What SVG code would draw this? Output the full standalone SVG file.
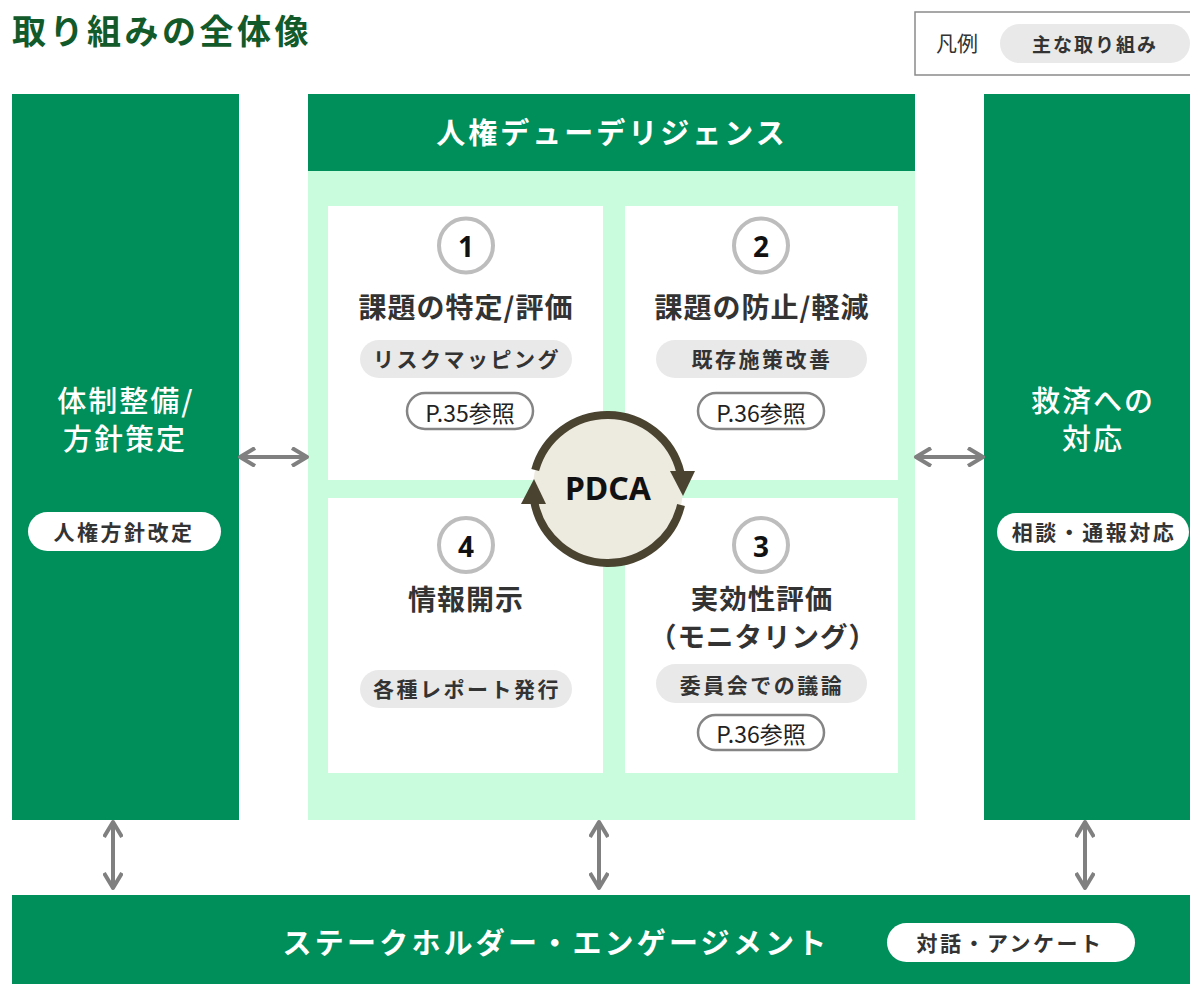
<svg xmlns="http://www.w3.org/2000/svg" width="1190" height="984" viewBox="0 0 1190 984">
<defs>
<style>
text{font-family:"Noto Sans CJK JP","Noto Sans",sans-serif;dominant-baseline:central;text-anchor:middle}
.green{fill:#008f5b}
.wt{fill:#ffffff;font-size:29px;font-weight:500;letter-spacing:2px}
.hd{fill:#ffffff;font-size:29px;font-weight:700;letter-spacing:3px}
.qt{fill:#333333;font-size:28px;font-weight:700;letter-spacing:1px}
.num{fill:#111111;font-size:28px;font-weight:700;font-family:"Noto Sans",sans-serif}
.ncirc{fill:#ffffff;stroke:#bdbdbd;stroke-width:4}
.gp{fill:#e9e9e9}
.wp{fill:#ffffff}
.pt{fill:#333333;font-size:21px;font-weight:700;letter-spacing:2.5px}
.ref{fill:#ffffff;stroke:#858585;stroke-width:2.5}
.rt{fill:#222222;font-size:23px;font-weight:400}
.conn{stroke:#808080;stroke-width:4;fill:none}
</style>
<marker id="chev" viewBox="0 0 20 20" refX="17" refY="10" markerWidth="20" markerHeight="20" markerUnits="userSpaceOnUse" orient="auto-start-reverse">
<path d="M 2 1 L 17 10 L 2 19" fill="none" stroke="#808080" stroke-width="4" stroke-linejoin="round"/>
</marker>
</defs>
<rect width="1190" height="984" fill="#ffffff"/>

<g id="title">
<text x="12" y="29" style="text-anchor:start;font-size:34px;font-weight:700;fill:#125a2a;letter-spacing:3.5px">取り組みの全体像</text>
</g>

<g id="legend">
<rect x="915" y="12" width="290" height="63" fill="#ffffff" stroke="#8a8a8a" stroke-width="1.5"/>
<text x="957" y="42" style="font-size:21px;fill:#333333;font-weight:400">凡例</text>
<rect x="1000" y="24" width="190" height="39" rx="19.5" class="gp"/>
<text x="1095" y="43" style="font-size:19px;font-weight:700;fill:#333333;letter-spacing:2px">主な取り組み</text>
</g>

<g id="left-column">
<rect x="12" y="94" width="227" height="726" class="green"/>
<text x="126" y="399" class="wt">体制整備/</text>
<text x="125" y="437" class="wt">方針策定</text>
<rect x="28" y="512" width="193" height="39" rx="19.5" class="wp"/>
<text x="124" y="531" class="pt">人権方針改定</text>
</g>

<g id="right-column">
<rect x="984" y="94" width="206" height="726" class="green"/>
<text x="1093" y="399" class="wt">救済への</text>
<text x="1093" y="437" class="wt">対応</text>
<rect x="997" y="513" width="192" height="38" rx="19" class="wp"/>
<text x="1094" y="531" class="pt">相談・通報対応</text>
</g>

<g id="due-diligence">
<rect x="308" y="171" width="607" height="649" fill="#c8fcdc"/>
<rect x="308" y="94" width="607" height="77" class="green"/>
<text x="612" y="131" class="hd">人権デューデリジェンス</text>
</g>

<g id="q1">
<rect x="328" y="206" width="275" height="274" fill="#ffffff"/>
<circle cx="466" cy="245.5" r="27" class="ncirc"/>
<text x="466" y="246" class="num">1</text>
<text x="466" y="306" class="qt">課題の特定/評価</text>
<rect x="360" y="340" width="212" height="38" rx="19" class="gp"/>
<text x="467" y="358" class="pt">リスクマッピング</text>
<rect x="407" y="393" width="126" height="36" rx="18" class="ref"/>
<text x="470" y="412" class="rt">P.35参照</text>
</g>

<g id="q2">
<rect x="625" y="206" width="273" height="274" fill="#ffffff"/>
<circle cx="761" cy="245.5" r="27" class="ncirc"/>
<text x="761" y="246" class="num">2</text>
<text x="762" y="306" class="qt">課題の防止/軽減</text>
<rect x="656" y="340" width="211" height="38" rx="19" class="gp"/>
<text x="762" y="358" class="pt">既存施策改善</text>
<rect x="698" y="393" width="126" height="36" rx="18" class="ref"/>
<text x="761" y="412" class="rt">P.36参照</text>
</g>

<g id="q4">
<rect x="328" y="498" width="275" height="275" fill="#ffffff"/>
<circle cx="466" cy="545" r="27" class="ncirc"/>
<text x="466" y="546" class="num">4</text>
<text x="466" y="598" class="qt">情報開示</text>
<rect x="360" y="670" width="212" height="38" rx="19" class="gp"/>
<text x="467" y="688" class="pt">各種レポート発行</text>
</g>

<g id="q3">
<rect x="625" y="498" width="273" height="275" fill="#ffffff"/>
<circle cx="761" cy="545" r="27" class="ncirc"/>
<text x="761" y="546" class="num">3</text>
<text class="qt" style="font-size:27.5px"><tspan x="762" y="597">実効性評価</tspan><tspan x="763" y="635">（モニタリング）</tspan></text>
<rect x="656" y="664" width="211" height="39" rx="19.5" class="gp"/>
<text x="762" y="684" class="pt">委員会での議論</text>
<rect x="698" y="715" width="126" height="35" rx="17.5" class="ref"/>
<text x="761" y="733" class="rt">P.36参照</text>
</g>

<g id="pdca">
<circle cx="608" cy="488" r="75" fill="#edeae0"/>
<path d="M 535.2 470 A 75 75 0 0 1 680.3 472" fill="none" stroke="#4a4330" stroke-width="8"/>
<polygon points="670,471 695,471 683,496" fill="#4a4330"/>
<path d="M 681 505 A 75 75 0 0 1 534.5 503" fill="none" stroke="#4a4330" stroke-width="8"/>
<polygon points="521,504 546,504 534,479" fill="#4a4330"/>
<text x="608" y="487" style="font-family:'Noto Sans',sans-serif;font-size:32px;font-weight:700;fill:#111111">PDCA</text>
</g>

<g id="stakeholder">
<rect x="12" y="895" width="1178" height="89" class="green"/>
<text x="556" y="941" class="hd" style="letter-spacing:3.2px">ステークホルダー・エンゲージメント</text>
<rect x="887" y="923" width="248" height="39" rx="19.5" class="wp"/>
<text x="1010" y="942" class="pt">対話・アンケート</text>
</g>

<g id="connectors">
<line x1="240" y1="457" x2="307" y2="457" class="conn" marker-start="url(#chev)" marker-end="url(#chev)"/>
<line x1="916" y1="457" x2="983" y2="457" class="conn" marker-start="url(#chev)" marker-end="url(#chev)"/>
<line x1="113" y1="822" x2="113" y2="888" class="conn" marker-start="url(#chev)" marker-end="url(#chev)"/>
<line x1="599" y1="822" x2="599" y2="888" class="conn" marker-start="url(#chev)" marker-end="url(#chev)"/>
<line x1="1085" y1="822" x2="1085" y2="888" class="conn" marker-start="url(#chev)" marker-end="url(#chev)"/>
</g>
</svg>
